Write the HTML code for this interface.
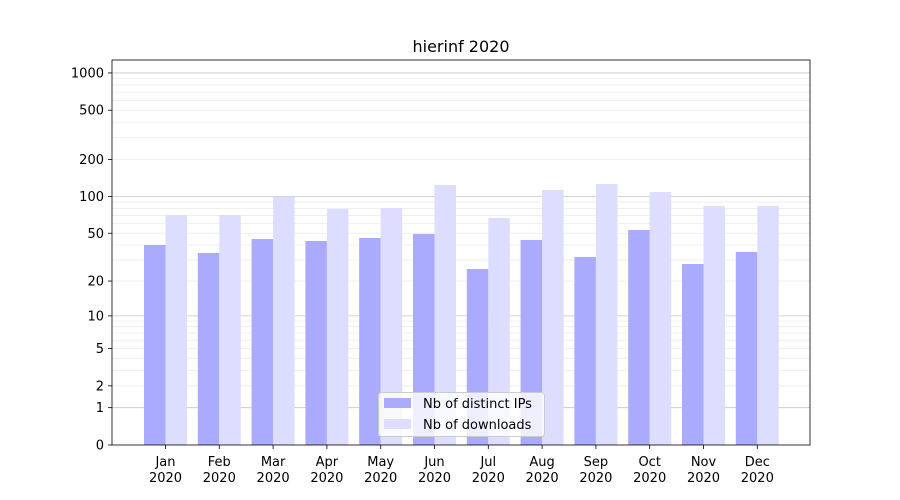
<!DOCTYPE html>
<html><head><meta charset="utf-8"><style>
html,body{margin:0;padding:0;background:#fff;}
svg{display:block;font-family:"DejaVu Sans","Liberation Sans",sans-serif;}
</style></head><body>
<svg id="s" width="900" height="500" xmlns="http://www.w3.org/2000/svg"></svg>
<script>
const s=document.getElementById('s');
let h='';
const Y=v=>445-124*Math.log10(1+v);
// grid
for(const d of [1,10,100]){for(let k=2;k<10;k++){const y=Y(k*d);h+=`<line x1="112" x2="810" y1="${y}" y2="${y}" stroke="#ebebeb" stroke-width="0.8"/>`;}}
for(const v of [1,10,100,1000]){const y=Y(v);h+=`<line x1="112" x2="810" y1="${y}" y2="${y}" stroke="#c4c4c4" stroke-width="0.8"/>`;}
const months=['Jan','Feb','Mar','Apr','May','Jun','Jul','Aug','Sep','Oct','Nov','Dec'];
const ip=[245,253,239,241,238,234,269,240,257,230,264,252];
const dl=[215,215,197,209,208,185,218,190,184,192,206,206];
const w=21.5;
months.forEach((m,i)=>{const c=165.5+i*53.8;
h+=`<rect x="${c-w}" y="${ip[i]}" width="${w}" height="${445-ip[i]}" fill="#aaaaff"/>`;
h+=`<rect x="${c}" y="${dl[i]}" width="${w}" height="${445-dl[i]}" fill="#ddddff"/>`;
h+=`<line x1="${c}" x2="${c}" y1="445" y2="449" stroke="#000" stroke-width="0.8"/>`;
h+=`<text x="${c}" y="466" font-size="13" text-anchor="middle">${m}</text><text x="${c}" y="482" font-size="13" text-anchor="middle">2020</text>`;});
// y ticks
for(const v of [0,1,2,5,10,20,50,100,200,500,1000]){const y=Y(v);
h+=`<line x1="108" x2="112" y1="${y}" y2="${y}" stroke="#000" stroke-width="0.8"/><text x="104" y="${y+4.5}" font-size="13" text-anchor="end">${v}</text>`;}
h+=`<rect x="112" y="60" width="698" height="385" fill="none" stroke="#000" stroke-width="0.8"/>`;
h+=`<text x="461" y="52" font-size="16" text-anchor="middle">hierinf 2020</text>`;
// legend
h+=`<rect x="378.5" y="392.5" width="166" height="44" rx="3" fill="#fff" fill-opacity="0.8" stroke="#ccc"/>`;
h+=`<rect x="384" y="398" width="27" height="10" fill="#aaaaff"/><text x="423" y="408" font-size="13">Nb of distinct IPs</text>`;
h+=`<rect x="384" y="419" width="27" height="10" fill="#ddddff"/><text x="423" y="429" font-size="13">Nb of downloads</text>`;
s.innerHTML=h;
</script>
</body></html>
